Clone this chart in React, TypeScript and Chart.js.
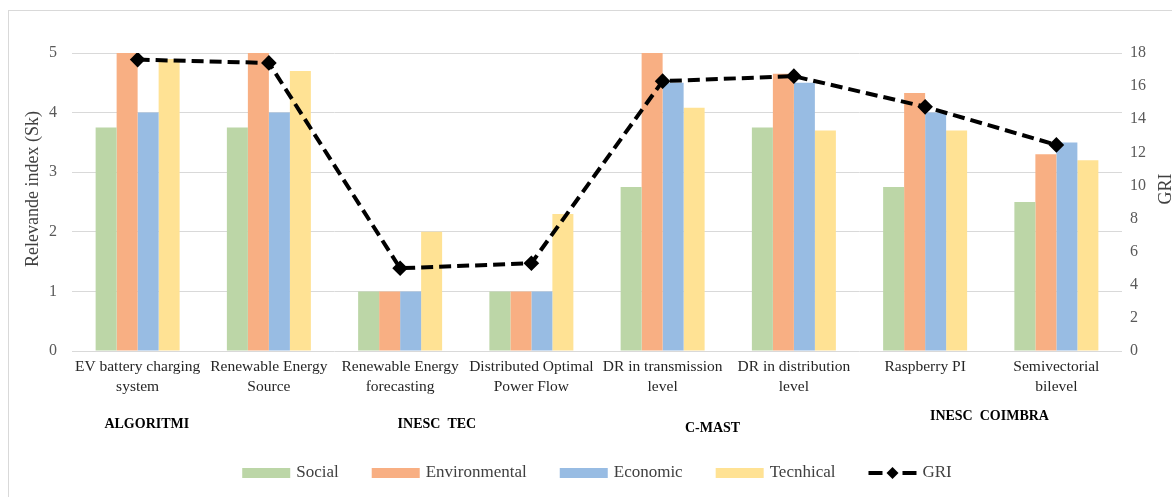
import React, { useEffect, useRef } from "react";
import { Chart, registerables } from "chart.js";

Chart.register(...registerables);

// ---------- data ----------
const categories: string[][] = [
  ["EV battery charging", "system"],
  ["Renewable Energy", "Source"],
  ["Renewable Energy", "forecasting"],
  ["Distributed Optimal", "Power Flow"],
  ["DR in transmission", "level"],
  ["DR in distribution", "level"],
  ["Raspberry PI"],
  ["Semivectorial", "bilevel"],
];
const socialValues = [3.75, 3.75, 1, 1, 2.75, 3.75, 2.75, 2.5];
const environmentalValues = [5, 5, 1, 1, 5, 4.65, 4.33, 3.3];
const economicValues = [4, 4, 1, 1, 4.5, 4.5, 4, 3.5];
const technicalValues = [4.9, 4.7, 2, 2.3, 4.08, 3.7, 3.7, 3.2];
const griValues = [17.6, 17.4, 5.0, 5.3, 16.3, 16.6, 14.75, 12.45];

const seriesNames = ["Social", "Environmental", "Economic", "Tecnhical", "GRI"];
const leftAxisTitle = "Relevande index (Sk)";
const rightAxisTitle = "GRI";
const leftAxisMax = 5;
const leftAxisStep = 1;
const rightAxisMax = 18;
const rightAxisStep = 2;

const groupNames = ["ALGORITMI", "INESC  TEC", "C-MAST", "INESC  COIMBRA"];
// placement of group captions (in category units / px below axis)
const groupCategoryPositions = [0.07, 2.28, 4.38, 6.49];
const groupLabelDrop = [73, 73, 77, 65];

// ---------- style ----------
const FONT = "'Liberation Serif', 'Times New Roman', serif";
const COLORS = ["#BCD6A7", "#F8AF83", "#98BCE3", "#FFE294"];

export default function App() {
  const ref = useRef<HTMLCanvasElement | null>(null);

  useEffect(() => {
    const canvas = ref.current;
    if (!canvas) return;

    const overlay = {
      id: "overlay",
      afterDraw(chart: any) {
        const { ctx, chartArea, scales } = chart;
        ctx.save();

        // group captions
        ctx.font = `bold 14px ${FONT}`;
        ctx.fillStyle = "#000000";
        ctx.textAlign = "center";
        ctx.textBaseline = "middle";
        groupNames.forEach((name, i) => {
          const x = scales.x.getPixelForValue(groupCategoryPositions[i]);
          ctx.fillText(name, x, chartArea.bottom + groupLabelDrop[i]);
        });

        // axis titles
        const midY = (chartArea.top + chartArea.bottom) / 2 - 13;
        ctx.font = `18px ${FONT}`;
        ctx.fillStyle = "#404040";
        ctx.save();
        ctx.translate(33.5, midY);
        ctx.rotate(-Math.PI / 2);
        ctx.fillText(leftAxisTitle, 0, 0);
        ctx.restore();
        ctx.save();
        ctx.translate(1166, midY);
        ctx.rotate(-Math.PI / 2);
        ctx.fillText(rightAxisTitle, 0, 0);
        ctx.restore();

        // legend
        ctx.font = `17px ${FONT}`;
        const boxW = 48;
        const gapText = 6;
        const gapItem = 33;
        const widths = seriesNames.map((n) => ctx.measureText(n).width);
        const total =
          widths.reduce((a: number, w: number) => a + boxW + gapText + w, 0) +
          gapItem * (seriesNames.length - 1);
        let x = (chartArea.left + chartArea.right) / 2 - total / 2;
        const ly = 473;
        seriesNames.forEach((name, i) => {
          if (i < 4) {
            ctx.fillStyle = COLORS[i];
            ctx.fillRect(x, ly - 5, boxW, 10);
          } else {
            ctx.strokeStyle = "#000000";
            ctx.lineWidth = 4;
            ctx.setLineDash([]);
            ctx.beginPath();
            ctx.moveTo(x, ly);
            ctx.lineTo(x + 14, ly);
            ctx.moveTo(x + 34, ly);
            ctx.lineTo(x + boxW, ly);
            ctx.stroke();
            ctx.fillStyle = "#000000";
            ctx.beginPath();
            const cx = x + boxW / 2;
            ctx.moveTo(cx, ly - 6);
            ctx.lineTo(cx + 6, ly);
            ctx.lineTo(cx, ly + 6);
            ctx.lineTo(cx - 6, ly);
            ctx.closePath();
            ctx.fill();
          }
          ctx.fillStyle = "#404040";
          ctx.textAlign = "left";
          ctx.textBaseline = "middle";
          ctx.fillText(name, x + boxW + gapText, ly);
          x += boxW + gapText + widths[i] + gapItem;
        });

        ctx.restore();
      },
    };

    const barSets = [socialValues, environmentalValues, economicValues, technicalValues];

    const chart = new Chart(canvas, {
      type: "bar",
      data: {
        labels: categories,
        datasets: [
          ...barSets.map((vals, i) => ({
            type: "bar" as const,
            label: seriesNames[i],
            data: vals,
            backgroundColor: COLORS[i],
            borderWidth: 0,
            categoryPercentage: 0.64,
            barPercentage: 1,
            yAxisID: "y",
            order: 1,
          })),
          {
            type: "line" as const,
            label: seriesNames[4],
            data: griValues,
            borderColor: "#000000",
            backgroundColor: "#000000",
            borderWidth: 4,
            borderDash: [12, 6],
            pointStyle: "rectRot",
            pointRadius: 5,
            pointBackgroundColor: "#000000",
            pointBorderColor: "#000000",
            tension: 0,
            fill: false,
            yAxisID: "y1",
            order: 0,
          },
        ],
      },
      options: {
        responsive: false,
        animation: false,
        layout: { padding: { top: 53, left: 0, right: 0, bottom: 0 } },
        plugins: {
          legend: { display: false },
          tooltip: { enabled: false },
        },
        scales: {
          x: {
            type: "category",
            offset: true,
            grid: { display: false, drawTicks: false },
            border: { display: false },
            ticks: {
              font: { family: FONT, size: 15.5, lineHeight: 1.3 },
              color: "#262626",
              padding: 6,
              maxRotation: 0,
              minRotation: 0,
              autoSkip: false,
            },
            afterFit(scale: any) {
              scale.height = 146;
            },
          },
          y: {
            position: "left",
            min: 0,
            max: leftAxisMax,
            grid: { color: "#d9d9d9", lineWidth: 1, drawTicks: false },
            border: { display: false },
            ticks: {
              stepSize: leftAxisStep,
              font: { family: FONT, size: 16 },
              color: "#595959",
              padding: 15,
            },
            afterFit(scale: any) {
              scale.width = 72;
            },
          },
          y1: {
            position: "right",
            min: 0,
            max: rightAxisMax,
            grid: { display: false, drawTicks: false },
            border: { display: false },
            ticks: {
              stepSize: rightAxisStep,
              font: { family: FONT, size: 16 },
              color: "#595959",
              padding: 8,
            },
            afterFit(scale: any) {
              scale.width = 50;
            },
          },
        },
      },
      plugins: [overlay],
    });

    return () => chart.destroy();
  }, []);

  return (
    <div
      style={{
        position: "fixed",
        left: 0,
        top: 0,
        width: "100vw",
        height: "100vh",
        overflow: "hidden",
        background: "#ffffff",
      }}
    >
      <div
        style={{
          position: "absolute",
          left: 8,
          top: 10,
          width: 1300,
          height: 600,
          borderLeft: "1px solid #d9d9d9",
          borderTop: "1px solid #d9d9d9",
        }}
      />
      <canvas
        ref={ref}
        width={1172}
        height={497}
        style={{ position: "absolute", left: 0, top: 0, width: 1172, height: 497 }}
      />
    </div>
  );
}
